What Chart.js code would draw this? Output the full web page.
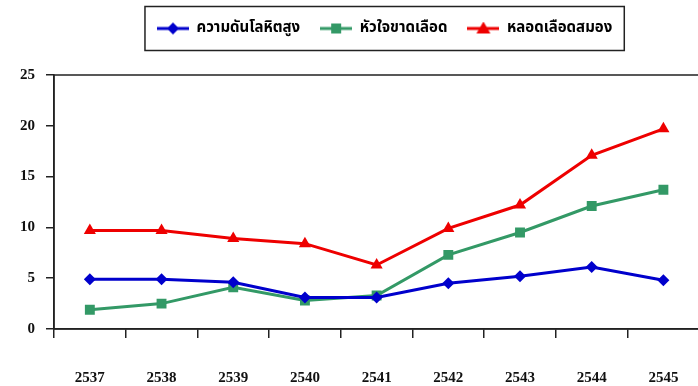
<!DOCTYPE html>
<html>
<head>
<meta charset="utf-8">
<script src="https://cdn.jsdelivr.net/npm/chart.js@4"></script>
<style>
  html, body { margin: 0; padding: 0; background: #fff; overflow: hidden; }
  #wrap { position: relative; width: 710px; height: 386px; }
</style>
</head>
<body>
<div id="wrap"><canvas id="myChart"></canvas></div>
<script>
// Data
const years = ['2537', '2538', '2539', '2540', '2541', '2542', '2543', '2544', '2545'];
const hypertension = [4.9, 4.9, 4.6, 3.1, 3.1, 4.5, 5.2, 6.1, 4.8];
const heartDisease = [1.9, 2.5, 4.1, 2.8, 3.3, 7.3, 9.5, 12.1, 13.7];
const stroke = [9.7, 9.7, 8.9, 8.4, 6.3, 9.9, 12.2, 17.1, 19.7];
const seriesNames = ['ความดันโลหิตสูง', 'หัวใจขาดเลือด', 'หลอดเลือดสมอง'];
const yTicks = [0, 5, 10, 15, 20, 25];

const tickFont = { family: '"Liberation Serif", "DejaVu Serif", serif', size: 15, weight: 'bold' };
const thaiFont = { family: 'Tahoma, "Noto Sans Thai", "Noto Serif Thai", Garuda, Loma, "Liberation Serif", serif', size: 15, weight: 'bold' };

// small legend icons: line with the marker in the middle
function legendIcon(color, style) {
    const c = document.createElement('canvas');
    c.width = 32; c.height = 14;
    const g = c.getContext('2d');
    g.strokeStyle = color; g.lineWidth = 3;
    g.beginPath(); g.moveTo(0, 7); g.lineTo(32, 7); g.stroke();
    g.fillStyle = color;
    g.beginPath();
    if (style === 'rectRot') {
        g.moveTo(16, 1); g.lineTo(22, 7); g.lineTo(16, 13); g.lineTo(10, 7);
    } else if (style === 'rect') {
        g.rect(11, 2, 10, 10);
    } else {
        g.moveTo(16, 0); g.lineTo(23, 12); g.lineTo(9, 12);
    }
    g.closePath(); g.fill();
    return c;
}

// frame round the plot and round the legend
const frames = {
    id: 'frames',
    beforeInit(chart) {
        const fit = chart.legend.fit;
        chart.legend.fit = function() {
            fit.call(this);
            this.height += 29;
        };
    },
    afterLayout(chart) {
        chart.legend.left += 8;
        chart.legend.right += 8;
    },
    afterDraw(chart) {
        const ctx = chart.ctx;
        const a = chart.chartArea;
        ctx.save();
        ctx.strokeStyle = '#222';
        ctx.lineWidth = 1.5;
        ctx.strokeRect(a.left, a.top, a.right - a.left, a.bottom - a.top);
        const boxes = chart.legend.legendHitBoxes;
        if (boxes && boxes.length) {
            const first = boxes[0], last = boxes[boxes.length - 1];
            const cy = first.top + first.height / 2;
            ctx.strokeRect(first.left - 12, cy - 22, last.left + last.width - first.left + 24, 44);
        }
        ctx.restore();
    }
};

const colors = ['#0000CC', '#339966', '#EE0000'];
const styles = ['rectRot', 'rect', 'triangle'];
const radii = [6, 7, 7];
const values = [hypertension, heartDisease, stroke];

const ctx = document.getElementById('myChart').getContext('2d');
const myChart = new Chart(ctx, {
    type: 'line',
    data: {
        labels: years,
        datasets: values.map(function(v, i) {
            return {
                label: seriesNames[i],
                data: v,
                borderColor: colors[i],
                backgroundColor: colors[i],
                borderWidth: 3,
                pointStyle: styles[i],
                pointRadius: radii[i],
                pointHoverRadius: radii[i],
                pointBorderWidth: 0,
                tension: 0
            };
        })
    },
    options: {
        responsive: true,
        maintainAspectRatio: false,
        animation: false,
        events: [],
        layout: { padding: { top: 1, right: 6, left: 0, bottom: 0 } },
        plugins: {
            tooltip: { enabled: false },
            legend: {
                position: 'top',
                fullSize: false,
                labels: {
                    usePointStyle: true,
                    pointStyleWidth: 32,
                    padding: 20,
                    color: '#111',
                    font: thaiFont,
                    generateLabels: function(chart) {
                        return chart.data.datasets.map(function(ds, i) {
                            return {
                                text: ds.label,
                                pointStyle: legendIcon(colors[i], styles[i]),
                                fillStyle: colors[i],
                                strokeStyle: colors[i],
                                lineWidth: 0,
                                datasetIndex: i
                            };
                        });
                    }
                }
            }
        },
        scales: {
            x: {
                offset: true,
                grid: { offset: true, drawOnChartArea: false, drawTicks: true, tickLength: 9, color: '#222', lineWidth: 1.5 },
                border: { display: true, color: '#222', width: 1.5 },
                ticks: { font: tickFont, color: '#111', padding: 31, maxRotation: 0 },
                afterFit: function(scale) { scale.height = 57; }
            },
            y: {
                min: 0,
                max: 25,
                afterBuildTicks: function(scale) {
                    scale.ticks = yTicks.map(function(v) { return { value: v }; });
                },
                grid: { drawOnChartArea: false, drawTicks: true, tickLength: 8, color: '#222', lineWidth: 1.5 },
                border: { display: true, color: '#222', width: 1.5 },
                ticks: { font: tickFont, color: '#111', padding: 11 },
                afterFit: function(scale) { scale.width = 54; }
            }
        }
    },
    plugins: [frames]
});
</script>
</body>
</html>
